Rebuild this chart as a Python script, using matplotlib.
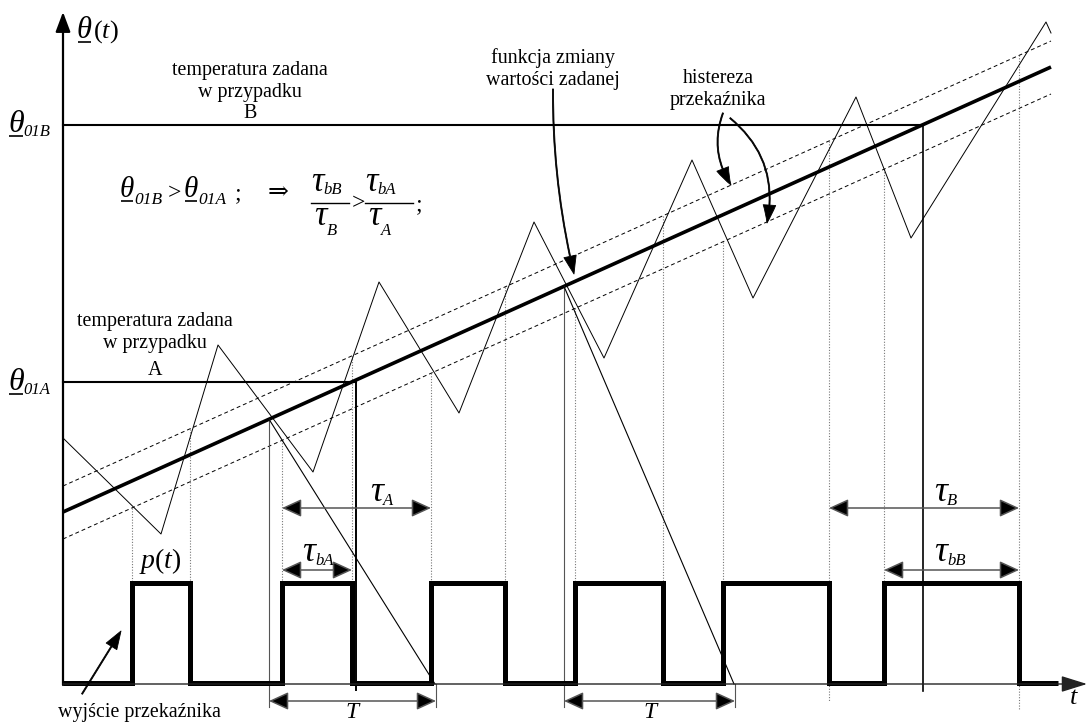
import numpy as np
import matplotlib.pyplot as plt

plt.rcParams['font.family'] = ['Liberation Serif', 'DejaVu Serif']
plt.rcParams['mathtext.fontset'] = 'custom'
plt.rcParams['mathtext.rm'] = 'Liberation Serif'
plt.rcParams['mathtext.it'] = 'Liberation Serif:italic'

# everything in pixel units (y grows downwards)
x_axis_y = 684
y_axis_x = 63

# set point line and the hysteresis band around it
set_x = [63, 1051]
set_y = [512, 67]
hyst_up_y = [486, 41]
hyst_lo_y = [539, 94]

# measured temperature (triangle wave vertices)
tri_x = [63, 161, 218, 313, 379, 459, 534, 604, 692, 753, 856, 911, 1046, 1051]
tri_y = [438, 534, 345, 472, 282, 413, 222, 358, 160, 298, 97, 238, 22, 33]

# relay output p(t)
p_on = [132, 282, 431, 575, 723, 884]
p_off = [190, 352, 505, 663, 829, 1019]
p_low, p_high = 683, 583
p_end = 1058

# set temperatures A and B
theta_A, t_A = 382, 356
theta_B, t_B = 125, 923

# construction of the period T
T_start = [269, 564]
T_end = [436, 735]


def line_y(x, ys):
    return np.interp(x, set_x, ys)


fig = plt.figure(figsize=(10.87, 7.24), dpi=100)
ax = fig.add_axes([0, 0, 1, 1])
ax.set_xlim(0, 1087)
ax.set_ylim(724, 0)
ax.axis('off')
R = fig.canvas.get_renderer()
inv = ax.transData.inverted()

# axes
ax.annotate('', xy=(y_axis_x, 12), xytext=(y_axis_x, x_axis_y + 1),
            arrowprops=dict(arrowstyle='-|>,head_length=1.2,head_width=0.45',
                            color='k', lw=1.6, shrinkA=0, shrinkB=0, mutation_scale=10))
ax.annotate('', xy=(1087, x_axis_y), xytext=(y_axis_x, x_axis_y),
            arrowprops=dict(arrowstyle='-|>,head_length=1.6,head_width=0.5',
                            color='#222', lw=1.0, shrinkA=0, shrinkB=0, mutation_scale=10))

# dotted switching lines
sw_x = p_on + p_off
sw_y0 = [line_y(x, hyst_lo_y) for x in p_on] + [line_y(x, hyst_up_y) for x in p_off]
sw_y1 = [p_high] * 6 + [p_high] * 4 + [702, 710]
for x, y0, y1 in zip(sw_x, sw_y0, sw_y1):
    ax.plot([x, x], [y0, y1], color='#777', lw=0.8, ls=(0, (1, 1.5)))

# set point and hysteresis
ax.plot(set_x, hyst_up_y, color='k', lw=0.7, ls=(0, (4, 3)))
ax.plot(set_x, hyst_lo_y, color='k', lw=0.7, ls=(0, (4, 3)))
ax.plot(set_x, set_y, color='k', lw=2.6, solid_capstyle='butt')

# triangle
ax.plot(tri_x, tri_y, color='k', lw=0.7)

# set temperatures A and B
ax.plot([y_axis_x, t_A], [theta_A, theta_A], color='k', lw=1.5)
ax.plot([t_A, t_A], [theta_A, 690], color='k', lw=1.4)
ax.plot([y_axis_x, t_B], [theta_B, theta_B], color='k', lw=1.5)
ax.plot([t_B, t_B], [theta_B, 691], color='k', lw=1.2)

# period T construction
for xs, xe in zip(T_start, T_end):
    ys = line_y(xs, set_y)
    ax.plot([xs, xs], [ys, 707], color='#555', lw=0.8)
    ax.plot([xe, xe], [x_axis_y, 707], color='#555', lw=0.8)
    ax.plot([xs, xe - 1], [ys, x_axis_y], color='k', lw=0.8)

# relay output
px, py = [y_axis_x], [p_low]
for a, b in zip(p_on, p_off):
    px += [a, a, b, b]
    py += [p_low, p_high, p_high, p_low]
px.append(p_end)
py.append(p_low)
ax.plot(px, py, color='k', lw=3.6, solid_joinstyle='miter', solid_capstyle='butt')


def dim(x0, x1, y):
    ax.annotate('', xy=(x1, y), xytext=(x0, y),
                arrowprops=dict(arrowstyle='<|-|>,head_length=1.2,head_width=0.55',
                                ec='#555', fc='k', lw=1.1, shrinkA=0, shrinkB=0,
                                mutation_scale=10))


dim(p_on[1], p_on[2], 508)
dim(p_on[1], p_off[1], 570)
dim(T_start[0], T_end[0], 701)
dim(T_start[1], T_end[1], 701)
dim(p_off[4], p_off[5], 508)
dim(p_on[5], p_off[5], 570)


def sym(x, y, base, sub='', fs=17, under=False, subfs=None, subdy=5):
    t = ax.text(x, y, base, fontsize=fs, style='italic', ha='left', va='baseline')
    bb = t.get_window_extent(R)
    x0 = inv.transform((bb.x0, bb.y0))[0]
    x1 = inv.transform((bb.x1, bb.y1))[0]
    if under:
        ax.plot([x0 + 1, x1 - 1], [y + 4, y + 4], color='k', lw=1.2, solid_capstyle='butt')
    if sub:
        s = ax.text(x1, y + subdy, sub, fontsize=subfs or fs * 0.6, style='italic',
                    ha='left', va='baseline')
        bb = s.get_window_extent(R)
        x1 = inv.transform((bb.x1, bb.y1))[0]
    return x1


# axis labels
xe = sym(77, 38, 'θ', fs=22, under=True)
ax.text(xe + 1, 38, r'$(t)$', fontsize=19, ha='left', va='baseline')
ax.text(1069, 704, r'$t$', fontsize=19, ha='left', va='baseline')
sym(8, 132, 'θ', '01B', fs=23, under=True, subfs=12, subdy=4)
sym(8, 390, 'θ', '01A', fs=23, under=True, subfs=12, subdy=4)
ax.text(139, 568, r'$p(t)$', fontsize=20, ha='left', va='baseline')

# tau and T labels
sym(370, 501, 'τ', 'A', fs=26, subfs=12, subdy=4)
sym(302, 561, 'τ', 'bA', fs=26, subfs=12, subdy=4)
sym(934, 501, 'τ', 'B', fs=26, subfs=12, subdy=4)
sym(934, 561, 'τ', 'bB', fs=26, subfs=12, subdy=4)
ax.text(352, 718, 'T', fontsize=17, style='italic', ha='center', va='baseline')
ax.text(650, 718, 'T', fontsize=17, style='italic', ha='center', va='baseline')

# formula
sym(120, 197, 'θ', '01B', fs=21, under=True, subfs=12.5, subdy=7)
ax.text(168, 199, '>', fontsize=17, ha='left', va='baseline')
sym(184, 197, 'θ', '01A', fs=21, under=True, subfs=12.5, subdy=7)
ax.text(235, 199, ';', fontsize=17, ha='left', va='baseline')
ax.text(268, 199, '⇒', fontsize=18, ha='left', va='baseline', family=['DejaVu Serif'])
for fx, bw, sn, sd in [(311, 38, 'bB', 'B'), (365, 48, 'bA', 'A')]:
    sym(fx, 191, 'τ', sn, fs=25, subfs=12, subdy=3)
    sym(fx + 3, 225, 'τ', sd, fs=25, subfs=12, subdy=10)
    ax.plot([fx, fx + bw], [203, 203], color='k', lw=1.0)
ax.text(352, 209, '>', fontsize=17, ha='left', va='baseline')
ax.text(416, 210, ';', fontsize=17, ha='left', va='baseline')

# annotations
fs_txt = 14.4
for s, yy in [('temperatura zadana', 75), ('w przypadku', 97), ('B', 118)]:
    ax.text(250, yy, s, fontsize=fs_txt, ha='center', va='baseline')
for s, yy in [('temperatura zadana', 326), ('w przypadku', 348), ('A', 375)]:
    ax.text(155, yy, s, fontsize=fs_txt, ha='center', va='baseline')
for s, yy in [('funkcja zmiany', 63), ('wartości zadanej', 85)]:
    ax.text(553, yy, s, fontsize=fs_txt, ha='center', va='baseline')
for s, yy in [('histereza', 83), ('przekaźnika', 105)]:
    ax.text(718, yy, s, fontsize=fs_txt, ha='center', va='baseline')
ax.text(139, 717, 'wyjście przekaźnika', fontsize=fs_txt, ha='center', va='baseline')

head = 'simple,head_length=1.3,head_width=0.9,tail_width=0.08'
ax.annotate('', xy=(574, 274), xytext=(553, 89),
            arrowprops=dict(arrowstyle=head, color='k', lw=0.6, shrinkA=0, shrinkB=0,
                            mutation_scale=10, connectionstyle='arc3,rad=0.06'))
ax.annotate('', xy=(731, 185), xytext=(723, 113),
            arrowprops=dict(arrowstyle=head, color='k', lw=0.6, shrinkA=0, shrinkB=0,
                            mutation_scale=10, connectionstyle='arc3,rad=0.25'))
ax.annotate('', xy=(767, 223), xytext=(730, 118),
            arrowprops=dict(arrowstyle=head, color='k', lw=0.6, shrinkA=0, shrinkB=0,
                            mutation_scale=10, connectionstyle='arc3,rad=-0.3'))
ax.annotate('', xy=(121, 631), xytext=(82, 694),
            arrowprops=dict(arrowstyle=head, color='k', lw=0.6, shrinkA=0, shrinkB=0,
                            mutation_scale=10))

fig.savefig('out.png', dpi=100, facecolor='white')
